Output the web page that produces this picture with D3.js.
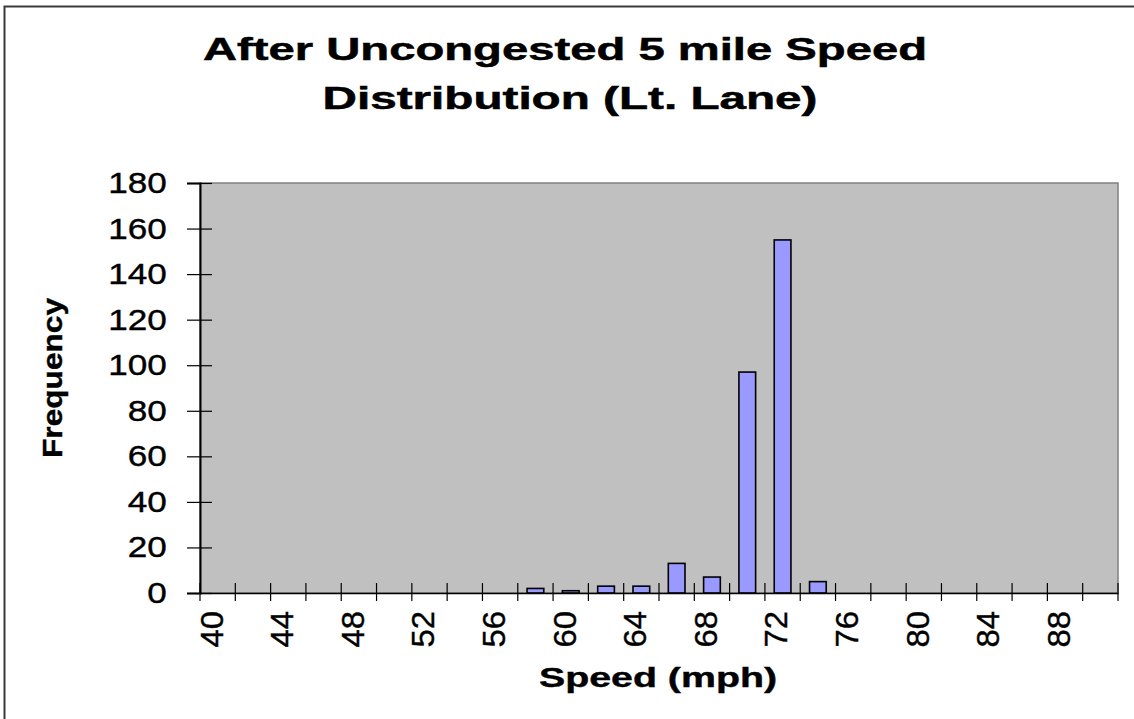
<!DOCTYPE html>
<html lang="en">
<head>
<meta charset="UTF-8">
<title>Speed Distribution</title>
<style>
  * { margin: 0; padding: 0; }
  html, body { background: #fff; width: 1134px; height: 719px; overflow: hidden; }
  svg { display: block; font-family: "Liberation Sans", Arial, sans-serif; }
</style>
</head>
<body>
<svg id="chart" width="1134" height="719"></svg>
<script src="https://d3js.org/d3.v7.min.js"></script>
<script>
// Data
const speeds = [40, 42, 44, 46, 48, 50, 52, 54, 56, 58, 60, 62, 64, 66, 68, 70, 72, 74, 76, 78, 80, 82, 84, 86, 88, 90];
const frequency = [0, 0, 0, 0, 0, 0, 0, 0, 0, 2, 1, 3, 3, 13, 7, 97, 155, 5, 0, 0, 0, 0, 0, 0, 0, 0];
const yTicks = [0, 20, 40, 60, 80, 100, 120, 140, 160, 180];
const titleLines = ['After Uncongested 5 mile Speed', 'Distribution (Lt. Lane)'];

const svg = d3.select('#chart');
const plot = { left: 200, top: 183, right: 1118, bottom: 593 };

// outer chart border: only left and top edges are in the picture
svg.append('path')
  .attr('d', 'M4.5,719V6.5H1134')
  .attr('fill', 'none').attr('stroke', '#3a3a3a').attr('stroke-width', 2);

const x = d3.scaleBand()
  .domain(speeds)
  .range([plot.left, plot.right])
  .paddingInner(0.527)
  .paddingOuter(0.2635);

const y = d3.scaleLinear().domain([0, 180]).range([plot.bottom, plot.top]);

// plot area
svg.append('rect')
  .attr('x', plot.left).attr('y', plot.top)
  .attr('width', plot.right - plot.left).attr('height', plot.bottom - plot.top)
  .attr('fill', '#c0c0c0').attr('stroke', '#808080').attr('stroke-width', 1.5);

// bars
svg.append('g').selectAll('rect')
  .data(speeds.map((s, i) => ({ s, v: frequency[i] })).filter(d => d.v > 0))
  .join('rect')
  .attr('x', d => x(d.s))
  .attr('y', d => y(d.v))
  .attr('width', x.bandwidth())
  .attr('height', d => y(0) - y(d.v))
  .attr('fill', '#9999ff')
  .attr('stroke', '#000')
  .attr('stroke-width', 1.6);

// y axis
const yAxis = svg.append('g')
  .attr('transform', `translate(${plot.left},0)`)
  .call(d3.axisLeft(y).tickValues(yTicks).tickSize(13).tickPadding(0));
yAxis.select('.domain').attr('stroke', '#000').attr('stroke-width', 2);
yAxis.selectAll('.tick line').attr('x1', 12).attr('stroke', '#000').attr('stroke-width', 1.2);
yAxis.selectAll('.tick text')
  .attr('x', -28)
  .attr('transform', 'scale(1.19,1)')
  .attr('font-size', 29.5)
  .attr('fill', '#000')
  .attr('stroke', '#000').attr('stroke-width', 0.4)
  .attr('font-family', '"Liberation Sans", Arial, sans-serif');

// x axis
const xAxis = svg.append('g')
  .attr('transform', `translate(0,${plot.bottom})`)
  .call(d3.axisBottom(x).tickSize(0).tickFormat((d, i) => i % 2 === 0 ? d : ''));
xAxis.select('.domain').attr('stroke', '#000').attr('stroke-width', 1.5);
xAxis.selectAll('.tick text')
  .attr('font-size', 31)
  .attr('fill', '#000')
  .attr('stroke', '#000').attr('stroke-width', 0.4)
  .attr('font-family', '"Liberation Sans", Arial, sans-serif')
  .attr('text-anchor', 'end')
  .attr('transform', 'translate(-6,18) rotate(-90) scale(1.06,1)')
  .attr('x', 0).attr('y', 0).attr('dy', '0.35em');

// category boundary ticks (between bars), crossing the axis
xAxis.append('g').selectAll('line')
  .data(d3.range(speeds.length + 1))
  .join('line')
  .attr('x1', i => plot.left + i * x.step())
  .attr('x2', i => plot.left + i * x.step())
  .attr('y1', -10).attr('y2', 8)
  .attr('stroke', '#000').attr('stroke-width', 1.2);

// titles
svg.append('text')
  .attr('x', 565).attr('y', 60)
  .attr('text-anchor', 'middle')
  .attr('font-size', 31).attr('font-weight', 'bold')
  .attr('stroke', '#000').attr('stroke-width', 0.5)
  .attr('textLength', 724).attr('lengthAdjust', 'spacingAndGlyphs')
  .text(titleLines[0]);
svg.append('text')
  .attr('x', 570).attr('y', 109)
  .attr('text-anchor', 'middle')
  .attr('font-size', 31).attr('font-weight', 'bold')
  .attr('stroke', '#000').attr('stroke-width', 0.5)
  .attr('textLength', 495).attr('lengthAdjust', 'spacingAndGlyphs')
  .text(titleLines[1]);

svg.append('text')
  .attr('x', 658).attr('y', 687)
  .attr('text-anchor', 'middle')
  .attr('font-size', 27).attr('font-weight', 'bold')
  .attr('stroke', '#000').attr('stroke-width', 0.4)
  .attr('textLength', 238).attr('lengthAdjust', 'spacingAndGlyphs')
  .text('Speed (mph)');

svg.append('text')
  .attr('transform', 'translate(62,378) rotate(-90)')
  .attr('text-anchor', 'middle')
  .attr('font-size', 28).attr('font-weight', 'bold')
  .attr('stroke', '#000').attr('stroke-width', 0.4)
  .attr('textLength', 160).attr('lengthAdjust', 'spacingAndGlyphs')
  .text('Frequency');
</script>
</body>
</html>
